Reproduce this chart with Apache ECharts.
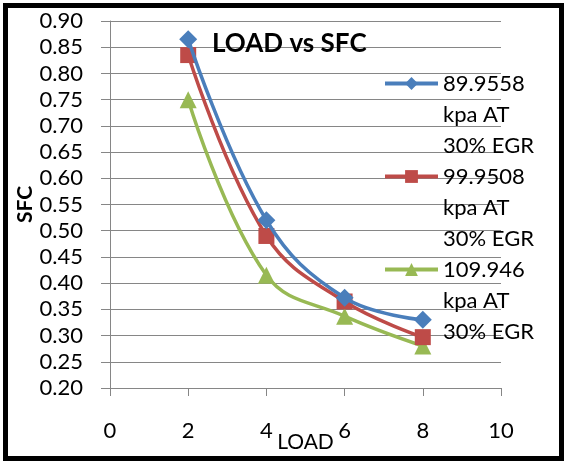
<!DOCTYPE html>
<html>
<head>
<meta charset="utf-8">
<script src="https://cdn.jsdelivr.net/npm/echarts@6/dist/echarts.min.js"></script>
<style>
  html, body { margin: 0; padding: 0; background: #fff; }
  #main { width: 567px; height: 463px; }
</style>
</head>
<body>
<div id="main"></div>
<script>
// 数据
var loads = [2, 4, 6, 8];
var seriesNames = ['89.9558 kpa AT 30% EGR', '99.9508 kpa AT 30% EGR', '109.946 kpa AT 30% EGR'];
var sfc1 = [0.865, 0.52, 0.372, 0.33];
var sfc2 = [0.835, 0.49, 0.365, 0.297];
var sfc3 = [0.75, 0.415, 0.337, 0.28];
var colors = ['#4A7EBB', '#BE4B48', '#98B954'];
var symbols = ['diamond', 'rect', 'triangle'];
var xTicks = [0, 2, 4, 6, 8, 10];

function pairs(xs, ys) {
  return xs.map(function (x, i) { return [x, ys[i]]; });
}

var chart = echarts.init(document.getElementById('main'));
var font = 'Lato, "Open Sans", sans-serif';

var option = {
  backgroundColor: '#ffffff',
  color: colors,
  animation: false,
  textStyle: { fontFamily: font },
  title: {
    text: 'LOAD vs SFC',
    left: 207,
    top: 26,
    textStyle: { fontFamily: font, fontSize: 26, fontWeight: 'bold', color: '#000' }
  },
  graphic: [{
    type: 'rect',
    shape: { x: 5.5, y: 5.5, width: 556, height: 453 },
    style: { fill: 'none', stroke: '#000', lineWidth: 5 },
    z: 100
  }],
  legend: {
    orient: 'vertical',
    left: 383,
    top: 6,
    padding: 0,
    itemWidth: 53,
    itemHeight: 16,
    itemGap: -62,
    data: seriesNames,
    lineStyle: { width: 4 },
    // 图例文字: 第一行与图标对齐, 后两行往下排
    formatter: function (name) {
      return '\n\n' + name.replace(' kpa', '\nkpa').replace(' 30%', '\n30%');
    },
    textStyle: {
      fontFamily: font,
      fontSize: 22,
      color: '#000',
      lineHeight: 31
    }
  },
  grid: {
    left: 110,
    right: 66,
    top: 21,
    bottom: 75,
    outerBoundsMode: 'none'
  },
  xAxis: {
    type: 'value',
    min: 0,
    max: 10,
    interval: 2,
    name: 'LOAD',
    nameLocation: 'middle',
    nameGap: 44,
    nameMoveOverlap: false,
    nameTextStyle: { fontFamily: font, fontSize: 21, color: '#000' },
    axisLine: { onZero: false, lineStyle: { color: '#868686', width: 1 } },
    axisTick: { show: true, length: 8, lineStyle: { color: '#868686' } },
    axisLabel: {
      margin: 32,
      fontFamily: font,
      fontSize: 22,
      color: '#000',
      formatter: function (v) { return xTicks.indexOf(v) >= 0 ? String(v) : ''; }
    },
    splitLine: { show: false }
  },
  yAxis: {
    type: 'value',
    min: 0.2,
    max: 0.9,
    interval: 0.05,
    name: 'SFC',
    nameLocation: 'middle',
    nameGap: 74,
    nameMoveOverlap: false,
    nameTextStyle: { fontFamily: font, fontSize: 21, fontWeight: 'bold', color: '#000' },
    axisLine: { show: true, lineStyle: { color: '#868686', width: 1 } },
    axisTick: { show: true, length: 9, lineStyle: { color: '#868686' } },
    axisLabel: {
      margin: 27,
      fontFamily: font,
      fontSize: 22,
      color: '#000',
      formatter: function (v) { return v.toFixed(2); }
    },
    splitLine: { show: true, lineStyle: { color: '#868686', width: 1 } }
  },
  series: [sfc1, sfc2, sfc3].map(function (ys, i) {
    return {
      name: seriesNames[i],
      type: 'line',
      smooth: 0.4,
      data: pairs(loads, ys),
      symbol: symbols[i],
      symbolSize: i === 0 ? 18 : (i === 1 ? 16 : 17),
      lineStyle: { width: 3.5, color: colors[i] },
      itemStyle: { color: colors[i] },
      z: 3 - i
    };
  })
};

chart.setOption(option);
</script>
</body>
</html>
